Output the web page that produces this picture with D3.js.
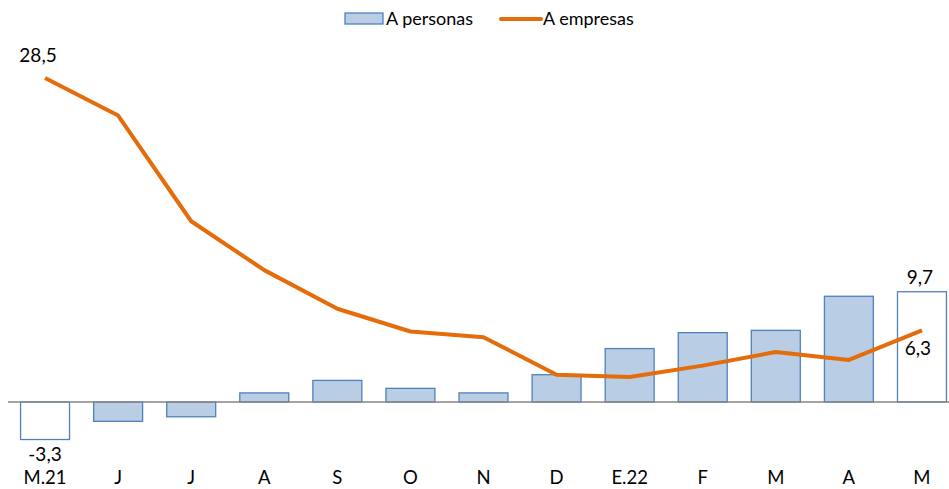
<!DOCTYPE html>
<html>
<head>
<meta charset="utf-8">
<script src="https://cdn.jsdelivr.net/npm/d3@7"></script>
<style>
  body { margin: 0; background: #fff; }
  text { font-family: Lato, "Open Sans", sans-serif; fill: #000; }
</style>
</head>
<body>
<svg width="949" height="489"></svg>
<script>
var categories = ["M.21", "J", "J", "A", "S", "O", "N", "D", "E.22", "F", "M", "A", "M"];
var personas = [-3.3, -1.7, -1.3, 0.8, 1.9, 1.2, 0.8, 2.4, 4.7, 6.1, 6.3, 9.3, 9.7];
var empresas = [28.5, 25.2, 15.9, 11.6, 8.2, 6.2, 5.7, 2.4, 2.2, 3.2, 4.4, 3.7, 6.3];

var svg = d3.select("svg");

var x = d3.scaleBand()
  .domain(d3.range(categories.length))
  .range([8.5, 958.5])
  .paddingInner(0.33)
  .paddingOuter(0.165);

var y = d3.scaleLinear()
  .domain([0, 28.5])
  .range([402, 78]);

// bars
svg.selectAll("rect.bar")
  .data(personas)
  .enter()
  .append("rect")
  .attr("class", "bar")
  .attr("x", function(d, i) { return x(i); })
  .attr("width", x.bandwidth())
  .attr("y", function(d) { return Math.min(y(d), y(0)); })
  .attr("height", function(d) { return Math.abs(y(d) - y(0)); })
  .style("fill", function(d, i) {
    return (i == 0 || i == personas.length - 1) ? "#ffffff" : "#b9cde5";
  })
  .style("stroke", "#4f81bd")
  .style("stroke-width", 1.3);

// zero line
svg.append("line")
  .attr("x1", 8).attr("x2", 949)
  .attr("y1", y(0)).attr("y2", y(0))
  .style("stroke", "#868686")
  .style("stroke-width", 1.3);

// line
var line = d3.line()
  .x(function(d, i) { return x(i) + x.bandwidth() / 2; })
  .y(function(d) { return y(d); });

svg.append("path")
  .datum(empresas)
  .attr("d", line)
  .style("fill", "none")
  .style("stroke", "#e46c0a")
  .style("stroke-width", 4)
  .style("stroke-linejoin", "round");

// category labels
svg.selectAll("text.cat")
  .data(categories)
  .enter()
  .append("text")
  .attr("class", "cat")
  .attr("x", function(d, i) { return x(i) + x.bandwidth() / 2; })
  .attr("y", 484)
  .attr("text-anchor", "middle")
  .style("font-size", "18.5px")
  .text(function(d) { return d; });

// value labels
var last = personas.length - 1;
function fmt(v) { return String(v).replace(".", ","); }
var labels = [
  {t: fmt(empresas[0]), x: x(0) + x.bandwidth() / 2 - 7, y: y(empresas[0]) - 16},
  {t: fmt(personas[0]), x: x(0) + x.bandwidth() / 2, y: y(personas[0]) + 21},
  {t: fmt(personas[last]), x: x(last) + x.bandwidth() / 2 - 2, y: y(personas[last]) - 8},
  {t: fmt(empresas[last]), x: x(last) + x.bandwidth() / 2 - 4, y: y(empresas[last]) + 25}
];
svg.selectAll("text.val")
  .data(labels)
  .enter()
  .append("text")
  .attr("class", "val")
  .attr("x", function(d) { return d.x; })
  .attr("y", function(d) { return d.y; })
  .attr("text-anchor", "middle")
  .style("font-size", "19px")
  .text(function(d) { return d.t; });

// legend
var lg = svg.append("g");
lg.append("rect")
  .attr("x", 345).attr("y", 13).attr("width", 38).attr("height", 11)
  .style("fill", "#b9cde5").style("stroke", "#4f81bd").style("stroke-width", 1.3);
lg.append("text").attr("x", 386).attr("y", 25).style("font-size", "18px").text("A personas");
lg.append("line")
  .attr("x1", 501).attr("x2", 541).attr("y1", 19).attr("y2", 19)
  .style("stroke", "#e46c0a").style("stroke-width", 4).style("stroke-linecap", "round");
lg.append("text").attr("x", 543).attr("y", 25).style("font-size", "18px").text("A empresas");
</script>
</body>
</html>
